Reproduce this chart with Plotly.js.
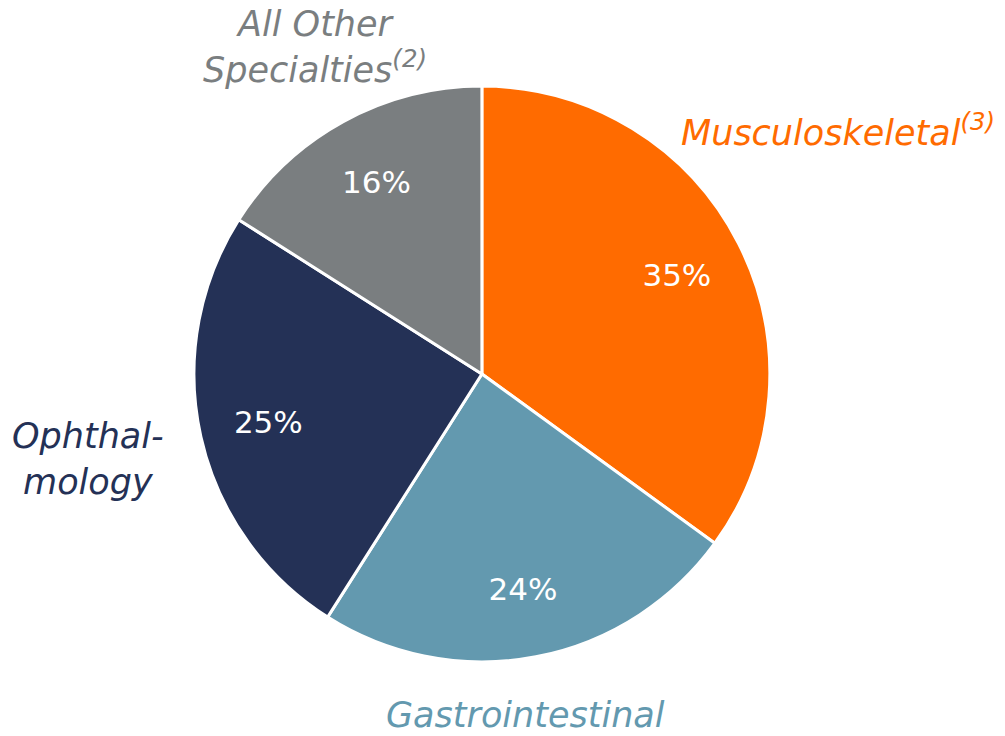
<!DOCTYPE html>
<html>
<head>
<meta charset="utf-8">
<script src="https://cdn.plot.ly/plotly-3.0.1.min.js"></script>
<style>html,body{margin:0;padding:0;background:#fff;}#chart{width:1005px;height:736px;}</style>
</head>
<body>
<div id="chart"></div>
<script>
const categories = ["Musculoskeletal", "Gastrointestinal", "Ophthalmology", "All Other Specialties"];
const shares = [35, 24, 25, 16];
const colors = ["#FF6B00", "#6399AF", "#243156", "#7A7E80"];
const labelTexts = ["Musculoskeletal<sup>(3)</sup>", "Gastrointestinal", "Ophthal-<br>mology", "All Other<br>Specialties<sup>(2)</sup>"];

const FONT = "DejaVu Sans, sans-serif";
const DOMAIN = {x: [0.193, 0.766], y: [0.1005, 0.8832]};

const pieTrace = {
  type: "pie",
  labels: categories,
  values: shares,
  sort: false,
  direction: "clockwise",
  rotation: 0,
  marker: {colors: colors, line: {color: "#ffffff", width: 3}},
  textinfo: "none",
  showlegend: false,
  hoverinfo: "label+percent",
  domain: DOMAIN
};

const textTrace = {
  type: "pie",
  labels: categories,
  values: shares,
  sort: false,
  direction: "clockwise",
  rotation: 0,
  hole: 0.52,
  marker: {colors: ["rgba(0,0,0,0)", "rgba(0,0,0,0)", "rgba(0,0,0,0)", "rgba(0,0,0,0)"], line: {width: 0}},
  texttemplate: "%{percent:.0%}",
  textposition: "inside",
  insidetextorientation: "horizontal",
  textfont: {family: FONT, size: 31, color: "#ffffff"},
  showlegend: false,
  hoverinfo: "skip",
  domain: DOMAIN
};

const annPos = [
  {x: 679/1005, y: 1 - 130/736, xanchor: "left"},
  {x: 525/1005, y: 1 - 715/736, xanchor: "center"},
  {x: 88/1005, y: 1 - 459/736, xanchor: "center"},
  {x: 315/1005, y: 1 - 47/736, xanchor: "center"}
];

const annotations = labelTexts.map((t, i) => ({
  text: "<i>" + t + "</i>",
  xref: "paper", yref: "paper",
  x: annPos[i].x, y: annPos[i].y,
  xanchor: annPos[i].xanchor, yanchor: "middle",
  showarrow: false,
  align: "center",
  font: {family: FONT, size: 35, color: colors[i]}
}));

const layout = {
  width: 1005, height: 736,
  margin: {l: 0, r: 0, t: 0, b: 0},
  paper_bgcolor: "#ffffff",
  annotations: annotations
};

Plotly.newPlot("chart", [pieTrace, textTrace], layout, {displayModeBar: false, staticPlot: true});
</script>
</body>
</html>
